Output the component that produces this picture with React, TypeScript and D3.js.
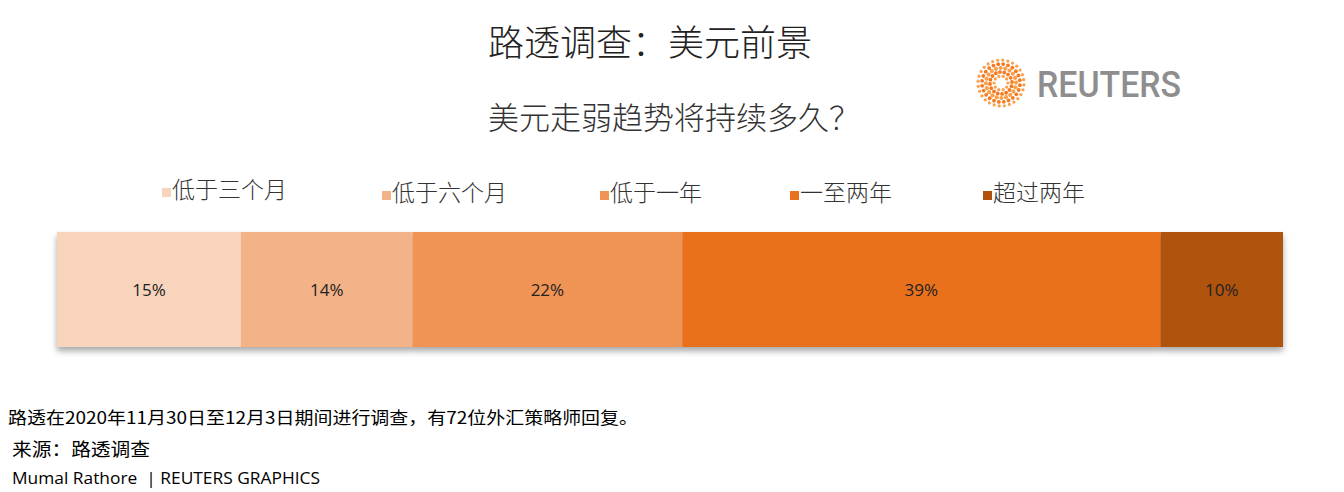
import * as d3 from "d3";

const categories = ["低于三个月", "低于六个月", "低于一年", "一至两年", "超过两年"];
const values = [15, 14, 22, 39, 10];
const colors = ["#F8D4BC", "#F3B287", "#EF9455", "#EA711F", "#B0520E"];
const legendX = [162, 382, 600, 790, 983];

const title = "路透调查：美元前景";
const subtitle = "美元走弱趋势将持续多久？";
const note = "路透在2020年11月30日至12月3日期间进行调查，有72位外汇策略师回复。";
const source = "来源：路透调查";
const credit = "Mumal Rathore  | REUTERS GRAPHICS";

function Logo({ cx, cy }: { cx: number; cy: number }) {
  const rings = [
    { r: 7, n: 10, s: 1.6 },
    { r: 11, n: 16, s: 1.9 },
    { r: 15, n: 20, s: 2.1 },
    { r: 19, n: 24, s: 1.9 },
    { r: 23, n: 28, s: 1.6 },
  ];
  return (
    <g>
      {rings.map((ring, i) =>
        d3.range(ring.n).map((k) => {
          const a = (k / ring.n) * Math.PI * 2 + i * 0.3;
          return (
            <circle
              key={`${i}-${k}`}
              cx={cx + ring.r * Math.cos(a)}
              cy={cy + ring.r * Math.sin(a)}
              r={ring.s}
              fill={i % 2 ? "#F47920" : "#F9A04B"}
            />
          );
        })
      )}
      <text
        x={cx + 36}
        y={cy + 14}
        fontFamily="Roboto, 'Open Sans', sans-serif"
        fontWeight={500}
        fontSize={37}
        fill="#8e8e8e"
        textLength={144}
        lengthAdjust="spacingAndGlyphs"
      >
        REUTERS
      </text>
    </g>
  );
}

export default function App() {
  const width = 1344;
  const height = 492;
  const barX0 = 57;
  const barX1 = 1283;
  const barY = 232;
  const barH = 115;

  const total = d3.sum(values);
  const x = d3.scaleLinear().domain([0, total]).range([barX0, barX1]);
  const starts = d3.cumsum([0, ...values.slice(0, -1)]);

  const cjk = "'Noto Sans CJK SC', sans-serif";

  return (
    <svg
      width={width}
      height={height}
      style={{ position: "absolute", left: 0, top: 0, background: "#fff" }}
    >
      <defs>
        <filter id="shadow" x="-5%" y="-20%" width="110%" height="150%">
          <feDropShadow dx="0" dy="4" stdDeviation="3" floodColor="#000" floodOpacity="0.35" />
        </filter>
      </defs>

      <text x={650} y={56} textAnchor="middle" fontFamily={cjk} fontWeight={300} fontSize={36} fill="#222">
        {title}
      </text>
      <text x={674} y={129} textAnchor="middle" fontFamily={cjk} fontWeight={300} fontSize={31} fill="#333">
        {subtitle}
      </text>

      <Logo cx={1001} cy={83} />

      {categories.map((c, i) => (
        <g key={c}>
          <rect x={legendX[i]} y={189 + (i === 0 ? -1 : 2)} width={9} height={9} fill={colors[i]} />
          <text x={legendX[i] + 10} y={199 + (i === 0 ? -1 : 2)} fontFamily={cjk} fontWeight={300} fontSize={23} fill="#333">
            {c}
          </text>
        </g>
      ))}

      <g filter="url(#shadow)">
        {values.map((v, i) => (
          <rect
            key={i}
            x={x(starts[i])}
            y={barY}
            width={x(starts[i] + v) - x(starts[i])}
            height={barH}
            fill={colors[i]}
          />
        ))}
      </g>
      {values.map((v, i) => (
        <text
          key={i}
          x={(x(starts[i]) + x(starts[i] + v)) / 2}
          y={barY + barH / 2 + 6}
          textAnchor="middle"
          fontFamily="'Open Sans', sans-serif"
          fontSize={17}
          fill="#222"
        >
          {v}%
        </text>
      ))}

      <text x={8} y={424} fontFamily={cjk} fontSize={17} fill="#000" textLength={630} lengthAdjust="spacingAndGlyphs">
        {note}
      </text>
      <text x={12} y={456} fontFamily={cjk} fontSize={18} fill="#000" textLength={138} lengthAdjust="spacingAndGlyphs">
        {source}
      </text>
      <text
        x={12}
        y={484}
        fontFamily="'Open Sans', sans-serif"
        fontSize={17}
        fill="#000"
        style={{ whiteSpace: "pre" }}
        textLength={308}
        lengthAdjust="spacingAndGlyphs"
      >
        {credit}
      </text>
    </svg>
  );
}
